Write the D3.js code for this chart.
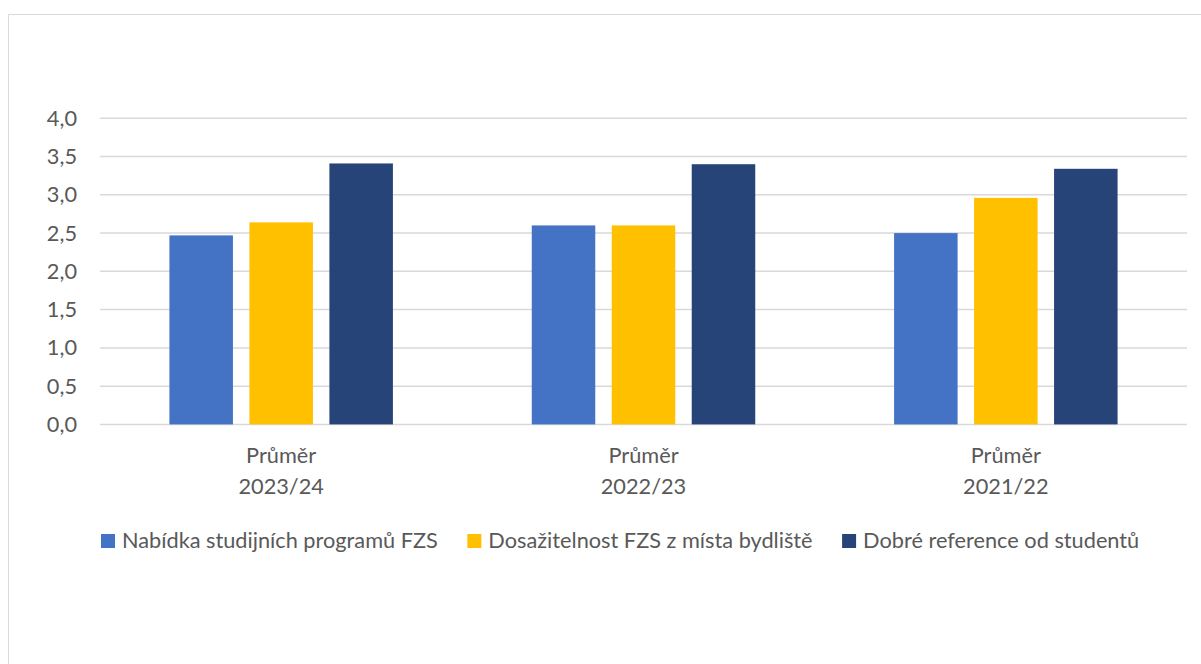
<!DOCTYPE html>
<html>
<head>
<meta charset="utf-8">
<script src="https://cdn.jsdelivr.net/npm/d3@7"></script>
<style>
  html, body { margin: 0; padding: 0; background: #ffffff; }
  svg { display: block; }
</style>
</head>
<body>
<svg id="chart" width="1201" height="664"></svg>
<script>
// ---- data ----
const categories = ["Průměr\n2023/24", "Průměr\n2022/23", "Průměr\n2021/22"];
const seriesNames = [
  "Nabídka studijních programů FZS",
  "Dosažitelnost FZS z místa bydliště",
  "Dobré reference od studentů"
];
const nabidka = [2.47, 2.60, 2.50];
const dosazitelnost = [2.64, 2.60, 2.96];
const reference = [3.41, 3.40, 3.34];
const yTicks = [0, 0.5, 1, 1.5, 2, 2.5, 3, 3.5, 4];
const colors = ["#4472C4", "#FFC000", "#264478"];

const seriesValues = [nabidka, dosazitelnost, reference];

// ---- setup ----
const svg = d3.select("#chart");
const W = 1201, H = 664;
const fontFamily = "Lato, 'Open Sans', 'Noto Sans', sans-serif";
const textColor = "#595959";

svg.append("rect").attr("x", 0).attr("y", 0).attr("width", W).attr("height", H).attr("fill", "#fff");
// chart area border (only top and left visible)
svg.append("path")
  .attr("d", `M8.5,${H} L8.5,14.5 L${W},14.5`)
  .attr("fill", "none").attr("stroke", "#d9d9d9").attr("stroke-width", 1);

// determine font size so widths match reference
const probe = svg.append("text").attr("font-family", fontFamily).attr("font-size", 20).text(seriesNames[0]);
const pw = probe.node().getComputedTextLength();
probe.remove();
const fs = 20 * 316 / pw;

const plotL = 100, plotR = 1187, plotT = 118.3, plotB = 424.4;

const y = d3.scaleLinear().domain([0, 4]).range([plotB, plotT]);
const x0 = d3.scaleBand().domain(categories).range([plotL, plotR]).paddingInner(0).paddingOuter(0);
const bw = x0.bandwidth();
const x1 = d3.scaleBand().domain(d3.range(seriesNames.length)).range([bw * 0.1916, bw * (1 - 0.1916)]).paddingInner(0.206).paddingOuter(0);

// gridlines
const grid = svg.append("g");
grid.selectAll("line").data(yTicks).join("line")
  .attr("x1", plotL).attr("x2", plotR)
  .attr("y1", d => y(d)).attr("y2", d => y(d))
  .attr("stroke", "#d9d9d9").attr("stroke-width", 1.5);

// y axis labels
const fmt = d => d3.format(".1f")(d).replace(".", ",");
const yAxis = d3.axisLeft(y).tickValues(yTicks).tickFormat(fmt).tickSize(0).tickPadding(0);
const gy = svg.append("g").attr("transform", `translate(77,0)`).call(yAxis);
gy.select(".domain").remove();
gy.selectAll("text").attr("font-family", fontFamily).attr("font-size", fs).attr("fill", textColor);

// bars
const groups = svg.append("g").selectAll("g").data(categories).join("g")
  .attr("transform", d => `translate(${x0(d)},0)`);
groups.selectAll("rect").data((d, i) => seriesValues.map((s, k) => ({k, v: s[i]}))).join("rect")
  .attr("x", d => x1(d.k))
  .attr("width", x1.bandwidth())
  .attr("y", d => y(d.v))
  .attr("height", d => y(0) - y(d.v))
  .attr("fill", d => colors[d.k]);

// x labels
const xl = svg.append("g");
categories.forEach(c => {
  const lines = c.split("\n");
  const t = xl.append("text").attr("text-anchor", "middle")
    .attr("font-family", fontFamily).attr("font-size", fs).attr("fill", textColor);
  lines.forEach((ln, i) => {
    t.append("tspan").attr("x", x0(c) + bw / 2).attr("y", 463.3 + i * 31).text(ln);
  });
});

// legend
const leg = svg.append("g");
let lx = 101;
seriesNames.forEach((n, k) => {
  leg.append("rect").attr("x", lx).attr("y", 534).attr("width", 14).attr("height", 14).attr("fill", colors[k]);
  const t = leg.append("text").attr("x", lx + 21).attr("y", 547.5)
    .attr("font-family", fontFamily).attr("font-size", fs).attr("fill", textColor).text(n);
  lx = lx + 21 + t.node().getComputedTextLength() + 29.5;
});
</script>
</body>
</html>
